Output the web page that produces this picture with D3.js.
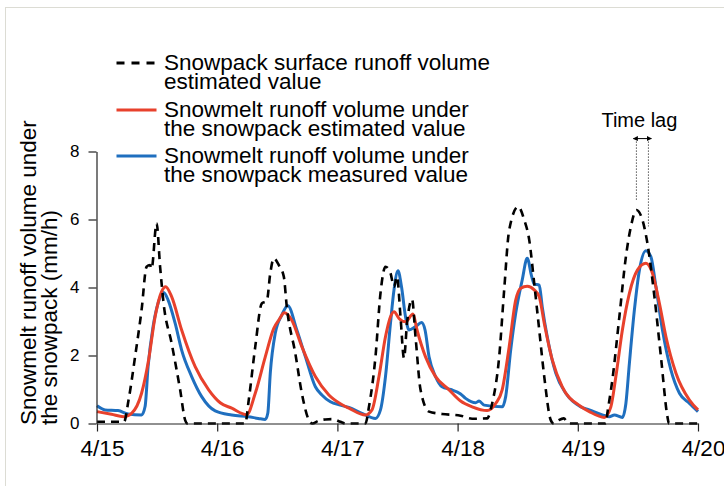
<!DOCTYPE html>
<html lang="en">
<head>
    <meta charset="UTF-8">
    <title>Snowmelt runoff</title>
    <script type="text/javascript" src="https://cdnjs.cloudflare.com/ajax/libs/d3/7.8.5/d3.min.js"></script>
    <style>
        body { margin: 0; background: #fff; }
        text { font-family: Arial, "Liberation Sans", Helvetica, sans-serif; fill: #000; }
    </style>
</head>
<body>
<svg id="chart" width="724" height="486"></svg>

<script type="text/javascript">
    // hours since 4/15 00:00, values in mm/h
    const surfaceHours = [0, 5.4, 6.3, 7.6, 8.9, 9.9, 10.6, 10.9, 11.9, 12.6, 13.3, 14.9, 16.6, 17.6, 18, 29.6, 30.3, 31.6, 32.9, 33.9, 34.6, 35.3, 36.3, 37.3, 37.9, 39.6, 40.9, 42.3, 43, 44.2, 45.6, 47, 48.6, 49.6, 53.6, 54.3, 55.6, 56.6, 57.6, 58.6, 59.3, 59.9, 60.6, 61.3, 61.9, 62.9, 63.6, 64.6, 66.3, 68.9, 72.6, 74.9, 77.9, 78.9, 80.3, 81.3, 82.3, 84.1, 85.3, 86.3, 87.3, 88.3, 89.3, 90.6, 91.2, 92.2, 93.2, 94.2, 101.6, 101.9, 102.9, 104.3, 105.6, 106.6, 107.7, 108.9, 109.9, 111.3, 112.6, 113.9, 114.2, 120];
    const surfaceValues = [0.05, 0.05, 0.69, 1.96, 3.34, 4.61, 4.66, 4.55, 5.89, 4.61, 3.53, 2.36, 0.99, 0.1, 0, 0, 0.69, 2.26, 3.53, 3.6, 4.42, 4.86, 4.66, 4.32, 3.43, 2.06, 0.89, 0.1, 0, 0.08, 0.12, 0.13, 0.05, 0, 0, 0.49, 1.96, 3.83, 4.61, 4.42, 4.02, 4.32, 3.14, 1.92, 2.95, 3.65, 2.55, 0.99, 0.35, 0.28, 0.23, 0.14, 0.15, 0.59, 1.96, 3.93, 5.69, 6.38, 5.99, 5.4, 4.12, 2.75, 1.38, 0.1, 0, 0.1, 0.15, 0, 0, 0.3, 1.28, 3.14, 4.9, 5.79, 6.28, 5.99, 5.3, 3.73, 1.96, 0.2, 0, 0];

    const estHours = [0, 2.9, 5.3, 6.9, 8.9, 10.3, 11.6, 12.9, 13.7, 14.9, 16.9, 19.6, 22.3, 24.6, 26.9, 29.9, 31.6, 33.6, 35.3, 36.3, 37.4, 38.9, 40.9, 43.6, 46.3, 48.6, 50.3, 53.6, 54.9, 56.3, 57.6, 58.6, 59.3, 60.3, 61.6, 63.1, 63.9, 65.6, 67.6, 70.3, 72.6, 74.9, 77.9, 79.6, 80.9, 82.3, 83.6, 84.6, 85.9, 87.3, 88.3, 89.3, 90.9, 92.9, 96.6, 98.3, 101.3, 102.6, 103.6, 104.9, 106.3, 107.9, 109.6, 110.9, 112.3, 113.6, 115.6, 118.3, 120];
    const estValues = [0.35, 0.27, 0.2, 0.3, 0.89, 1.87, 3.14, 3.88, 4.02, 3.73, 2.75, 1.67, 0.99, 0.61, 0.45, 0.26, 0.89, 1.96, 2.8, 3.04, 3.26, 3.04, 2.26, 1.38, 0.84, 0.58, 0.45, 0.25, 0.4, 1.38, 2.55, 3.14, 3.29, 3.09, 2.99, 3.22, 2.75, 1.96, 1.38, 0.99, 0.66, 0.49, 0.38, 0.59, 0.99, 2.26, 3.63, 3.98, 4.04, 3.93, 3.73, 2.95, 1.87, 1.08, 0.5, 0.35, 0.18, 0.49, 1.38, 2.75, 3.83, 4.51, 4.71, 4.42, 3.53, 2.55, 1.48, 0.69, 0.4];

    const measHours = [0, 1.6, 4.2, 6.2, 8.9, 9.6, 10.2, 11.2, 12.2, 13.3, 14.2, 15.6, 16.9, 18.9, 20.9, 23.6, 26.9, 30.2, 32.2, 33.6, 34.1, 34.6, 35.6, 36.9, 38.1, 39.9, 41.6, 43.6, 44.9, 46.6, 48.6, 50.3, 52.9, 55.6, 56.6, 57.6, 58.6, 59.3, 60.1, 60.8, 61.6, 62.3, 63.6, 64.8, 65.5, 66.3, 67.6, 68.9, 70.6, 72.6, 73.6, 75.6, 76.3, 77.3, 80.9, 81.6, 82.6, 83.6, 84.9, 85.9, 86.8, 87.3, 88.3, 88.9, 89.9, 91.6, 93.6, 96.6, 98.3, 100.9, 102.3, 103.3, 104.9, 105.6, 106.3, 107.3, 108.3, 109.6, 110.6, 111.6, 112.9, 114.6, 116.3, 118.3, 120];
    const measValues = [0.52, 0.4, 0.38, 0.28, 0.25, 0.5, 1.67, 2.85, 3.54, 3.85, 3.63, 2.95, 2.16, 1.38, 0.79, 0.37, 0.25, 0.2, 0.15, 0.12, 0.3, 1.48, 2.66, 3.19, 3.46, 2.75, 1.97, 1.08, 0.84, 0.64, 0.54, 0.47, 0.3, 0.15, 0.4, 1.38, 2.95, 3.93, 4.49, 4.02, 3.14, 2.75, 2.85, 2.97, 2.75, 1.96, 1.38, 1.08, 1.0, 0.87, 0.74, 0.61, 0.66, 0.54, 0.49, 0.79, 2.16, 3.24, 4.22, 4.86, 4.32, 4.1, 4.07, 3.43, 2.55, 1.48, 0.89, 0.49, 0.4, 0.25, 0.2, 0.25, 0.18, 0.59, 1.77, 3.34, 4.51, 5.08, 4.9, 4.02, 2.75, 1.57, 0.89, 0.59, 0.35];

    const tickHours = [0, 24, 48, 72, 96, 120];
    const tickLabels = ["4/15", "4/16", "4/17", "4/18", "4/19", "4/20"];
    const yTicks = [0, 2, 4, 6, 8];

    // time lag marker: surface peak -> measured peak
    const lagHours = [107.7, 110.1];
    const lagBottoms = [6.55, 5.8];
    const lagTop = 8.38;

    const legendLabels = [
        ["Snowpack surface runoff volume", "estimated value"],
        ["Snowmelt runoff volume under", "the snowpack estimated value"],
        ["Snowmelt runoff volume under", "the snowpack measured value"]
    ];
    const yTitle = ["Snowmelt runoff volume under", "the snowpack (mm/h)"];

    const red = "#e8412c", blue = "#1f6fbf";

    const svg = d3.select("#chart");
    const x = d3.scaleLinear().domain([0, 120]).range([97, 698]);
    const y = d3.scaleLinear().domain([0, 8]).range([423.5, 151.5]);

    // light frame round the figure
    svg.append("rect")
        .attr("x", 5.5).attr("y", 7.5)
        .attr("width", 740).attr("height", 500)
        .attr("fill", "none")
        .attr("stroke", "#dcdcd4");

    const zip = (hs, vs) => hs.map((h, i) => [h, vs[i]]);
    const line = d3.line()
        .x(d => x(d[0]))
        .y(d => y(d[1]))
        .curve(d3.curveMonotoneX);

    svg.append("path")
        .datum(zip(measHours, measValues))
        .attr("d", line)
        .attr("fill", "none")
        .attr("stroke", blue)
        .attr("stroke-width", 3);

    svg.append("path")
        .datum(zip(estHours, estValues))
        .attr("d", line)
        .attr("fill", "none")
        .attr("stroke", red)
        .attr("stroke-width", 3);

    svg.append("path")
        .datum(zip(surfaceHours, surfaceValues))
        .attr("d", line)
        .attr("fill", "none")
        .attr("stroke", "#000")
        .attr("stroke-width", 2.6)
        .attr("stroke-dasharray", "8,6");

    // axes
    const xAxis = d3.axisBottom(x)
        .tickValues(tickHours)
        .tickFormat((d, i) => tickLabels[i])
        .tickSize(8)
        .tickPadding(9)
        .tickSizeOuter(0);
    const gx = svg.append("g")
        .attr("transform", "translate(0," + y(0) + ")")
        .call(xAxis);
    gx.selectAll("text")
        .attr("dx", 5)
        .style("font-size", "22.5px");

    const yAxis = d3.axisLeft(y)
        .tickValues(yTicks)
        .tickSize(8)
        .tickPadding(9)
        .tickSizeOuter(0);
    const gy = svg.append("g")
        .attr("transform", "translate(" + (x(0) - 0.5) + ",0)")
        .call(yAxis);
    gy.selectAll("text").style("font-size", "17px");

    svg.selectAll(".domain, .tick line")
        .attr("stroke", "#222")
        .attr("stroke-width", 1.2);

    // y title, two rotated lines in one text element
    const yt = svg.append("text")
        .attr("transform", "translate(36,425) rotate(-90)")
        .style("font-size", "22.5px");
    yTitle.forEach(function(t, i) {
        yt.append("tspan")
            .attr("x", 0)
            .attr("y", i * 21)
            .text(t);
    });

    // legend
    const legendStyles = [
        {stroke: "#000", dash: "8,7"},
        {stroke: red, dash: null},
        {stroke: blue, dash: null}
    ];
    const legendTop = [63, 110, 156];
    legendLabels.forEach(function(lines, i) {
        const g = svg.append("g").attr("transform", "translate(0," + legendTop[i] + ")");
        g.append("line")
            .attr("x1", 116.5).attr("x2", 156.5)
            .attr("stroke", legendStyles[i].stroke)
            .attr("stroke-width", 3)
            .attr("stroke-dasharray", legendStyles[i].dash);
        const label = g.append("text").style("font-size", "22.5px");
        lines.forEach(function(t, j) {
            label.append("tspan")
                .attr("x", 164)
                .attr("y", 7 + j * 19)
                .text(t);
        });
    });

    // time lag annotation
    svg.append("defs").append("marker")
        .attr("id", "head")
        .attr("viewBox", "0 0 10 10")
        .attr("refX", 9).attr("refY", 5)
        .attr("markerWidth", 5).attr("markerHeight", 5)
        .attr("orient", "auto-start-reverse")
        .append("path")
        .attr("d", "M0,0L10,5L0,10Z")
        .attr("fill", "#000");

    lagHours.forEach(function(h, i) {
        svg.append("line")
            .attr("x1", x(h)).attr("x2", x(h))
            .attr("y1", y(lagTop)).attr("y2", y(lagBottoms[i]))
            .attr("stroke", "#000")
            .attr("stroke-width", 1)
            .attr("stroke-dasharray", "1,2");
    });
    svg.append("line")
        .attr("x1", x(lagHours[0]) - 3).attr("x2", x(lagHours[1]) + 3)
        .attr("y1", y(lagTop)).attr("y2", y(lagTop))
        .attr("stroke", "#000")
        .attr("stroke-width", 1)
        .attr("marker-start", "url(#head)")
        .attr("marker-end", "url(#head)");
    svg.append("text")
        .attr("x", (x(lagHours[0]) + x(lagHours[1])) / 2 - 3)
        .attr("y", 126.5)
        .attr("text-anchor", "middle")
        .style("font-size", "20px")
        .text("Time lag");
</script>

</body>
</html>
